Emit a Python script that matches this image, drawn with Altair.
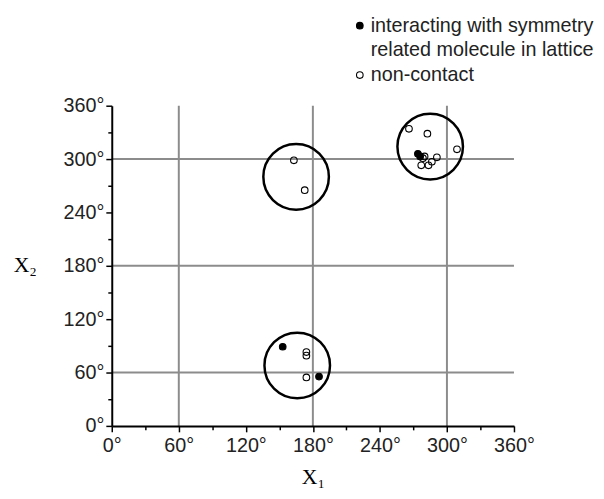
import altair as alt
import pandas as pd

# values
filled_x = [274, 276, 153, 185.5]
filled_y = [306, 303, 89, 55.5]
open_x = [266, 282.5, 309, 280, 278.5, 277, 283.5, 286.5, 291, 163, 172.7, 174.2, 174.2, 174.2]
open_y = [334, 328.5, 311, 303, 301, 293, 293, 297, 302, 298.6, 265, 83, 79, 54.5]
circle_x = [165, 285, 166]
circle_y = [280, 314, 68]
grid_vals = [60, 180, 300]
legend_lines = ["interacting with symmetry", "related molecule in lattice", "non-contact"]
legend_fill = ["black", "transparent", "transparent"]
legend_stroke = ["black", "transparent", "black"]

pts = pd.DataFrame({
    "x": filled_x + open_x,
    "y": filled_y + open_y,
    "kind": [legend_lines[0]] * len(filled_x) + [legend_lines[2]] * len(open_x),
})
circles = pd.DataFrame({"x": circle_x, "y": circle_y})
grid = pd.DataFrame({"v": grid_vals})

tick_vals = list(range(0, 361, 30))
label_font = "Liberation Sans"
xscale = alt.Scale(domain=[0, 360], nice=False, zero=False)
yscale = alt.Scale(domain=[0, 360], nice=False, zero=False)

common_axis = dict(
    values=tick_vals,
    labelExpr="datum.value % 60 === 0 ? datum.value + '°' : ''",
    labelFlush=False,
    labelOverlap=False,
    grid=False,
    domainColor="black", domainWidth=2,
    tickColor="black", tickWidth=1.5,
    tickSize={"condition": {"test": "datum.value % 60 === 0", "value": 6}, "value": 4},
    labelFont=label_font, labelFontSize=20, labelColor="#222",
    titleFont="Liberation Serif", titleFontSize=22, titleFontWeight="normal",
    titleColor="black", zindex=1,
)
xaxis = alt.Axis(title="X₁", labelPadding=4, titleY=51, titleBaseline="middle", **common_axis)
yaxis = alt.Axis(title="X₂", labelPadding=2, titleAngle=0, titleX=-88, titleY=161,
                 titleAlign="center", titleBaseline="middle", **common_axis)

legend = alt.Legend(title=None, orient="none", legendX=241, legendY=-91,
                    labelFont=label_font, labelFontSize=20, labelColor="#222",
                    labelLimit=400, symbolSize=45, symbolStrokeWidth=1.1,
                    padding=0, rowPadding=5, labelOffset=1)

vgrid = alt.Chart(grid).mark_rule(color="#8c8c8c", strokeWidth=2).encode(
    x=alt.X("v:Q", scale=xscale, axis=xaxis)
)
hgrid = alt.Chart(grid).mark_rule(color="#8c8c8c", strokeWidth=2).encode(
    y=alt.Y("v:Q", scale=yscale, axis=yaxis)
)
circ = alt.Chart(circles).mark_point(shape="circle", filled=False, color="black",
                                      strokeWidth=2.5, size=4400, opacity=1).encode(
    x=alt.X("x:Q", scale=xscale, axis=xaxis),
    y=alt.Y("y:Q", scale=yscale, axis=yaxis),
)
dots = alt.Chart(pts).mark_point(shape="circle", filled=True,
                                  strokeWidth=1.1, size=45, opacity=1).encode(
    x=alt.X("x:Q", scale=xscale, axis=xaxis),
    y=alt.Y("y:Q", scale=yscale, axis=yaxis),
    fill=alt.Fill("kind:N", scale=alt.Scale(domain=legend_lines, range=legend_fill),
                  legend=legend),
    stroke=alt.Stroke("kind:N", scale=alt.Scale(domain=legend_lines, range=legend_stroke),
                      legend=legend),
)

chart = alt.layer(vgrid, hgrid, circ, dots).properties(
    width=407, height=324,
    autosize=alt.AutoSizeParams(type="none"),
    padding={"left": 105, "top": 96, "right": 83, "bottom": 63},
).configure_view(stroke=None)

chart.save("out.html", embed_options={"renderer": "svg", "actions": False})
